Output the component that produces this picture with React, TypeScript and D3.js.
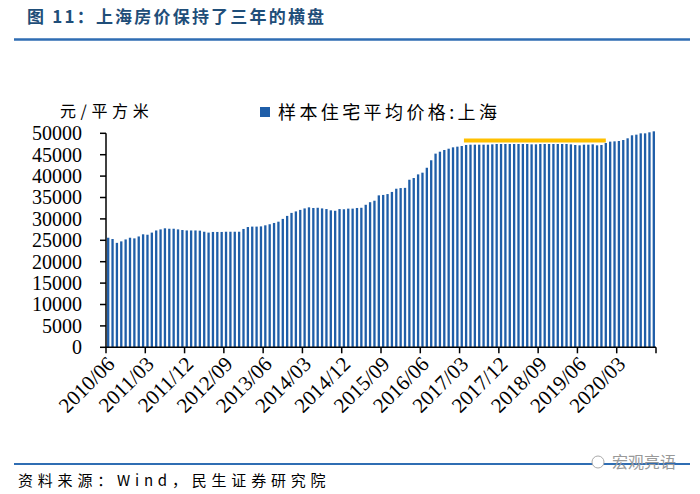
import * as d3 from "d3"

// Shanghai sample residential average price, monthly 2010/06 - 2020/11 (元/平方米)
const startMonth = new Date(2010, 5, 1)
const endMonth = new Date(2020, 11, 1)
const fmt = d3.timeFormat("%Y/%m")
const months = d3.timeMonth.range(startMonth, endMonth).map(fmt)

const prices = [
  25600, 25300, 24400, 24750, 25200, 25600, 25450, 25900, 26400, 26300,
  26800, 27300, 27550, 27800, 27700, 27700, 27550, 27400, 27300, 27300,
  27300, 27250, 27000, 26800, 26950, 26950, 26950, 27000, 27000, 27000,
  27000, 27650, 28100, 28200, 28200, 28250, 28500, 28750, 29050, 29350,
  30000, 30700, 31400, 31750, 32100, 32450, 32700, 32550, 32600, 32450,
  32300, 32000, 31900, 32300, 32250, 32400, 32400, 32550, 32600, 33300,
  33900, 34250, 35500, 35600, 35800, 36300, 37050, 37200, 37250, 39150,
  39550, 40400, 40800, 41950, 43700, 45250, 45700, 46100, 46400, 46720,
  46880, 47030, 47270, 47340, 47340, 47340, 47340, 47340, 47420, 47500,
  47500, 47500, 47500, 47500, 47500, 47500, 47500, 47420, 47420, 47500,
  47500, 47500, 47500, 47500, 47500, 47500, 47420, 47270, 47190, 47340,
  47340, 47420, 47190, 47270, 47730, 48050, 48120, 48200, 48430, 48830,
  49530, 49680, 49990, 49990, 50230, 50460,
]

const tickLabels = [
  "2010/06", "2011/03", "2011/12", "2012/09", "2013/06", "2014/03", "2014/12",
  "2015/09", "2016/06", "2017/03", "2017/12", "2018/09", "2019/06", "2020/03",
]
const yTicks = d3.range(0, 50001, 5000)

// the flat stretch highlighted in orange
const plateau = { from: "2017/04", to: "2019/12", value: 48300 }

const seriesName = "样本住宅平均价格:上海"
const unitLabel = "元/平方米"
const title = "图 11：上海房价保持了三年的横盘"
const source = "资料来源：Wind，民生证券研究院"

const W = 700
const H = 494
const left = 106
const right = 656
const top = 133.3
const bottom = 347.3

const cjk = "'Noto Sans CJK SC', sans-serif"
const serif = "'Liberation Serif', 'Times New Roman', serif"

export default function App() {
  const x = d3.scaleBand<string>().domain(months).range([left, right]).paddingInner(0.47).paddingOuter(0.235)
  const y = d3.scaleLinear().domain([0, 50000]).range([bottom, top])
  const step = x.step()
  const edge = (m: string) => (x(m) as number) - (step * 0.47) / 2

  const xTickPos = tickLabels.map(edge).concat([right])

  return (
    <svg width={W} height={H} style={{ position: "absolute", left: 0, top: 0, background: "#fff" }}>
      {/* header */}
      <text x={27} y={23} fontFamily={cjk} fontWeight="bold" fontSize={17} letterSpacing={2.2} fill="#1f4e79">
        {title}
      </text>
      <line x1={14} x2={690} y1={39.5} y2={39.5} stroke="#2f6db3" strokeWidth={2.5} />

      {/* unit + legend */}
      <text x={60} y={117} fontFamily={cjk} fontSize={16} letterSpacing={4.6} fill="#000">
        {unitLabel}
      </text>
      <rect x={260} y={107} width={10} height={10} fill="#1f5ea8" />
      <text x={278} y={118.5} fontFamily={cjk} fontSize={18} letterSpacing={3.4} fill="#000">
        {seriesName}
      </text>

      {/* bars */}
      {prices.map((v, i) => (
        <rect key={months[i]} x={x(months[i])} y={y(v)} width={x.bandwidth()} height={bottom - y(v)} fill="#1f5ea8" />
      ))}

      {/* plateau marker */}
      <line
        x1={edge(plateau.from)}
        x2={(x(plateau.to) as number) + x.bandwidth() / 2}
        y1={y(plateau.value)}
        y2={y(plateau.value)}
        stroke="#ffc000"
        strokeWidth={4}
      />

      {/* y axis */}
      <line x1={left} x2={left} y1={top} y2={bottom} stroke="#000" strokeWidth={1.5} />
      {yTicks.map((t) => (
        <g key={t}>
          <line x1={left - 6} x2={left} y1={y(t)} y2={y(t)} stroke="#000" strokeWidth={1.5} />
          <text x={82} y={y(t)} dy="0.34em" textAnchor="end" fontFamily={serif} fontSize={20} fill="#000">
            {t}
          </text>
        </g>
      ))}

      {/* x axis */}
      <line x1={left} x2={right} y1={bottom} y2={bottom} stroke="#000" strokeWidth={1.5} />
      {xTickPos.map((p, i) => (
        <line key={i} x1={p} x2={p} y1={bottom} y2={bottom + 6} stroke="#000" strokeWidth={1.5} />
      ))}
      {tickLabels.map((t) => {
        const px = edge(t) + 10
        const py = bottom + 18
        return (
          <text
            key={t}
            x={px}
            y={py}
            textAnchor="end"
            transform={`rotate(-45, ${px}, ${py})`}
            fontFamily={serif}
            fontSize={21}
            fill="#000"
          >
            {t}
          </text>
        )
      })}

      {/* footer */}
      <line x1={14} x2={690} y1={464} y2={464} stroke="#2f6db3" strokeWidth={2} />
      <text x={18} y={486} fontFamily={cjk} fontSize={15} letterSpacing={4.8} fill="#000">
        {source}
      </text>
      <circle cx={598} cy={462} r={6} fill="#fff" stroke="#aaa" strokeWidth={1} />
      <text x={612} y={468} fontFamily={cjk} fontSize={16} fill="#999">
        宏观亮语
      </text>
    </svg>
  )
}
